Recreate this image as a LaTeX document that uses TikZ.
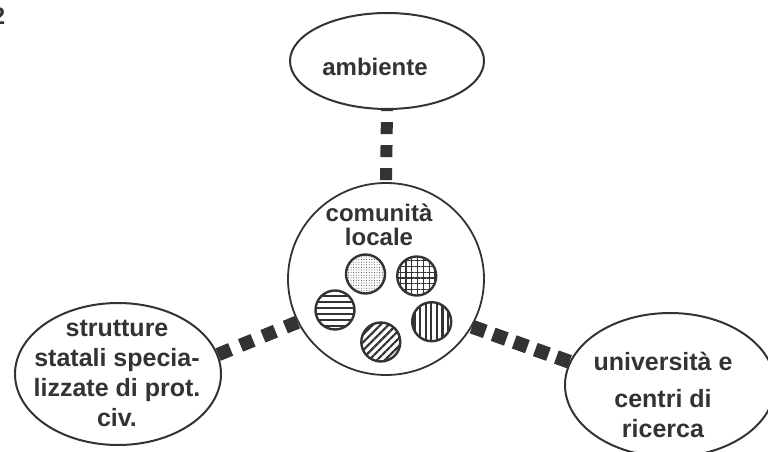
\documentclass[tikz,border=0pt]{standalone}
\usepackage{fontspec}
\setmainfont{Liberation Sans}
\usetikzlibrary{shapes.geometric,patterns.meta}
\definecolor{ink}{gray}{0.2}
\begin{document}
\begin{tikzpicture}[x=1pt,y=-1pt,
  oval/.style={ellipse, draw=ink, line width=2pt, inner sep=0pt},
  lbl/.style={text=ink, font=\bfseries\fontsize{25}{30}\selectfont, align=center, inner sep=0pt},
  link/.style={draw=ink, line width=13.5pt},
  ball/.style={circle, draw=ink, line width=2.4pt, minimum size=39pt, inner sep=0pt}
]
\useasboundingbox (0,0) rectangle (768,452);
% main shapes
\node[oval, minimum width=194pt, minimum height=96pt] (A) at (387,61) {};
\node[oval, line width=1.8pt, minimum width=196pt, minimum height=192pt] (C) at (386,279) {};
\node[oval, minimum width=206pt, minimum height=142pt] (L) at (118,374) {};
\node[oval, minimum width=210pt, minimum height=144pt] (R) at (670,385) {};
% texts
\node[lbl, anchor=base, font=\bfseries\fontsize{24}{24}\selectfont] (At) at (375,75) {ambiente};
\node[lbl, font=\bfseries\fontsize{24}{23.5}\selectfont] (Ct) at (379,225) {comunità\\locale};
\node[lbl] (Lt) at (117,373.5) {strutture\\statali specia-\\lizzate di prot.\\civ.};
\node[lbl] (Rt) at (663,395) {università e\\[7pt]centri di\\ricerca};
\node[lbl, anchor=base east, font=\bfseries\fontsize{24}{24}\selectfont] (pg) at (5.5,25) {2};
% patterned discs
\node[ball, pattern={Dots[radius=0.5pt, distance=2.6pt]}, pattern color=ink] (d1) at (365.5,274) {};
\node[ball, pattern={Hatch[distance=5.8pt, line width=1.3pt]}, pattern color=ink] (d2) at (416.7,276) {};
\node[ball, pattern={Lines[angle=0, distance=6pt, line width=2.6pt]}, pattern color=ink] (d3) at (335,310) {};
\node[ball, pattern={Lines[angle=90, distance=5.6pt, line width=2.2pt]}, pattern color=ink] (d4) at (431.7,321.7) {};
\node[ball, pattern={Lines[angle=45, distance=5.6pt, line width=2.2pt]}, pattern color=ink] (d5) at (380.8,342) {};
% square-dotted connectors
\draw[link, line width=12pt, dash pattern=on 12pt off 11pt, shorten <=2pt] (C.north) -- (A.south);
\draw[link, dash pattern=on 13.5pt off 10.7pt] (L.11) -- (C.206);
\draw[link, line width=14pt, dash pattern=on 14pt off 8.4pt] (C.331) -- (R.167);
\end{tikzpicture}
\end{document}
